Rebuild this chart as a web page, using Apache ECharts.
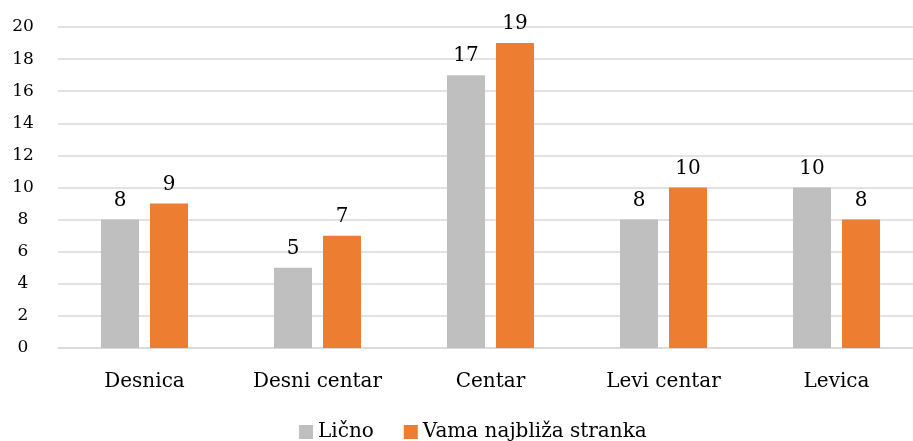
<!DOCTYPE html>
<html>
<head>
<meta charset="utf-8">
<script src="https://cdn.jsdelivr.net/npm/echarts@6/dist/echarts.min.js"></script>
<style>
  html, body { margin: 0; padding: 0; background: #fff; }
  #chart { width: 913px; height: 441px; }
</style>
</head>
<body>
<div id="chart"></div>
<script>
const categories = ['Desnica', 'Desni centar', 'Centar', 'Levi centar', 'Levica']
const licno = [8, 5, 17, 8, 10]
const stranka = [9, 7, 19, 10, 8]
const seriesNames = ['Lično', 'Vama najbliža stranka']

const font = '"DejaVu Serif", "Liberation Serif", serif'

const myChart = echarts.init(document.getElementById('chart'))
myChart.setOption({
  animation: false,
  textStyle: { fontFamily: font, color: '#000' },
  grid: { left: 58, top: 27, right: -10, height: 321, outerBoundsMode: 'none' },
  legend: {
    top: 422,
    left: 299,
    padding: 0,
    itemWidth: 14,
    itemHeight: 14,
    itemGap: 30,
    icon: 'rect',
    textStyle: { fontFamily: font, fontSize: 20, color: '#000' },
    data: seriesNames
  },
  xAxis: {
    type: 'category',
    data: categories,
    axisTick: { show: false },
    axisLine: { lineStyle: { color: '#D9D9D9', width: 1.5 } },
    axisLabel: { fontFamily: font, fontSize: 20, color: '#000', margin: 24 }
  },
  yAxis: {
    type: 'value',
    min: 0,
    max: 20,
    interval: 2,
    splitLine: { lineStyle: { color: '#D9D9D9', width: 1.5 } },
    axisLabel: { fontFamily: font, fontSize: 17, color: '#000', margin: 35, align: 'center' }
  },
  series: [
    {
      name: seriesNames[0],
      type: 'bar',
      data: licno,
      barWidth: 38,
      barGap: '29%',
      itemStyle: { color: '#BFBFBF' },
      label: { show: true, position: 'top', distance: 9, fontFamily: font, fontSize: 20, color: '#000' }
    },
    {
      name: seriesNames[1],
      type: 'bar',
      data: stranka,
      barWidth: 38,
      itemStyle: { color: '#ED7D31' },
      label: { show: true, position: 'top', distance: 9, fontFamily: font, fontSize: 20, color: '#000' }
    }
  ]
})
</script>
</body>
</html>
